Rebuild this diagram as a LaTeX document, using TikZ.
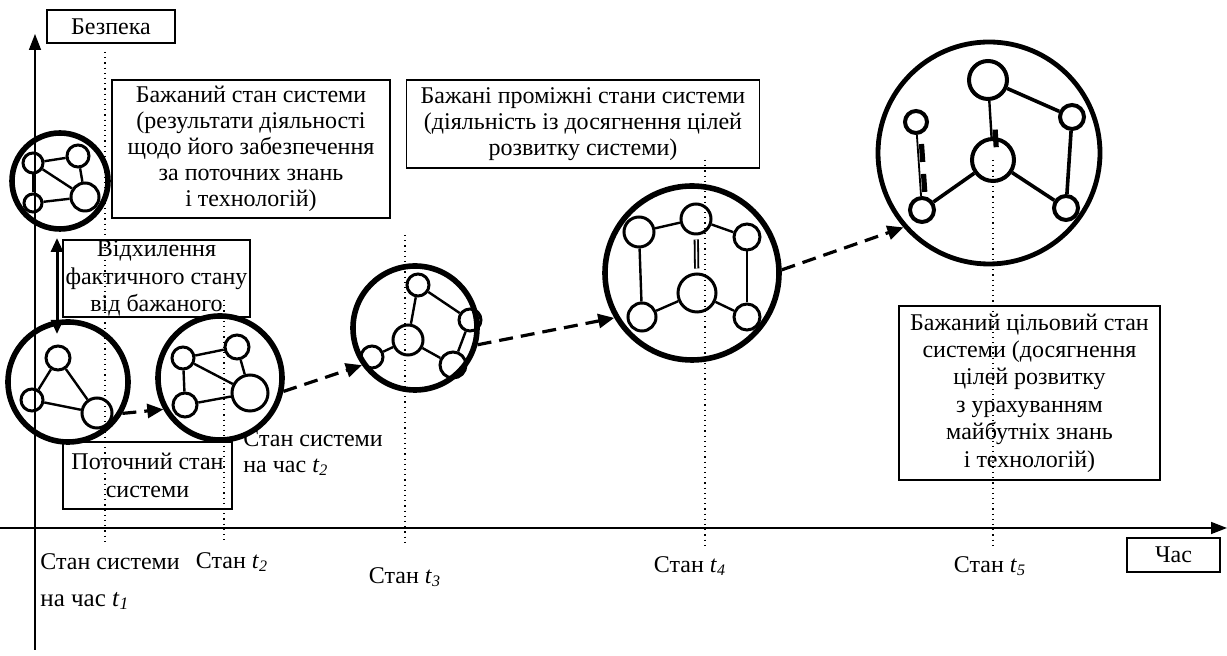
\documentclass[tikz,border=0pt]{standalone}
\usepackage{fontspec}
\setmainfont{Liberation Serif}
\usetikzlibrary{arrows.meta,calc}
\begin{document}
\begin{tikzpicture}[x=0.5pt,y=-0.5pt,
 big/.style={circle,draw,line width=2.8pt,inner sep=0pt},
 sm/.style={circle,draw,line width=1.5pt,inner sep=0pt},
 edge/.style={line width=1.2pt},
 tedge/.style={line width=1.8pt},
 box/.style={draw,line width=0.9pt,align=center,inner sep=0pt,font=\fontsize{12}{13.5}\selectfont},
 lab/.style={inner sep=0pt,font=\fontsize{12}{13.5}\selectfont},
 guide/.style={dotted,line width=0.6pt},
 axis/.style={line width=0.8pt,-{Triangle[length=8pt,width=6pt]}},
 flow/.style={line width=1.6pt,dash pattern=on 7pt off 4pt,-{Triangle[length=8pt,width=7pt]}},
]
\useasboundingbox (0,0) rectangle (1227,656);

% axes
\coordinate (yb) at (35,650); \coordinate (yt) at (35,34);
\coordinate (xl) at (0,528); \coordinate (xr) at (1227,528);
\draw[axis] (yb) -- (yt);
\draw[axis] (xl) -- (xr);

% dotted guides
\coordinate (g1t) at (105,52);  \coordinate (g1b) at (105,542);
\coordinate (g2t) at (224,300); \coordinate (g2b) at (224,542);
\coordinate (g3t) at (405,235); \coordinate (g3b) at (405,545);
\coordinate (g4t) at (705,160); \coordinate (g4b) at (705,545);
\coordinate (g5t) at (993,160); \coordinate (g5b) at (993,545);
\draw[guide] (g1t) -- (g1b);
\draw[guide] (g2t) -- (g2b);
\draw[guide] (g3t) -- (g3b);
\draw[guide] (g4t) -- (g4b);
\draw[guide] (g5t) -- (g5b);

% boxes
\node[box,minimum width=64pt,minimum height=16.5pt] (bez) at (111,26.5) {Безпека};
\node[box,minimum width=46.5pt,minimum height=17pt] (chas) at (1173.5,555) {Час};
\node[box,minimum width=139pt,minimum height=69pt,font=\fontsize{12}{13}\selectfont] (b1) at (251,149)
 {Бажаний стан системи\\(результати діяльності\\щодо його забезпечення\\за поточних знань\\і технологій)};
\node[box,minimum width=93.5pt,minimum height=38.5pt,font=\fontsize{12}{13.6}\selectfont] (b2) at (156.5,278.5)
 {Відхилення\\фактичного стану\\від бажаного};
\node[box,minimum width=84.5pt,minimum height=33.5pt,font=\fontsize{12}{14}\selectfont] (b3) at (147.5,475.5)
 {Поточний стан\\системи};
\node[box,minimum width=176.5pt,minimum height=44pt,font=\fontsize{12}{13}\selectfont] (b4) at (583,124)
 {Бажані проміжні стани системи\\(діяльність із досягнення цілей\\розвитку системи)};
\node[box,minimum width=130.5pt,minimum height=87pt,font=\fontsize{12}{13.7}\selectfont] (b5) at (1029.5,393)
 {Бажаний цільовий стан\\системи (досягнення\\цілей розвитку\\з урахуванням\\майбутніх знань\\і технологій)};

% labels
\node[lab,anchor=west] (l1a) at (40,562) {Стан системи};
\node[lab,anchor=west,font=\fontsize{12.5}{14}\selectfont] (l1b) at (40,601) {на час \textit{t}\textsubscript{\textit{1}}};
\node[lab] (l2) at (232,562) {Стан \textit{t}\textsubscript{\textit{2}}};
\node[lab] (l3) at (405,577) {Стан \textit{t}\textsubscript{\textit{3}}};
\node[lab] (l4) at (690,566) {Стан \textit{t}\textsubscript{\textit{4}}};
\node[lab] (l5) at (990,566) {Стан \textit{t}\textsubscript{\textit{5}}};
\node[lab,anchor=west,align=left,font=\fontsize{12}{13}\selectfont] (s2) at (243,453) {Стан системи\\на час \textit{t}\textsubscript{\textit{2}}};

% C1 desired state
\node[big,minimum size=48pt] (C1) at (60,181) {};
\node[sm,minimum size=10pt] (a1) at (33,163) {};
\node[sm,minimum size=11pt] (a2) at (78,156) {};
\node[sm,minimum size=14pt] (a3) at (85,197) {};
\node[sm,minimum size=9pt] (a4) at (33,203) {};
\draw[edge] (a1) -- (a2); \draw[edge] (a1) -- (a3); \draw[edge] (a1) -- (a4);
\draw[edge] (a4) -- (a3); \draw[edge] (a2) -- (a3);

% C2 current state
\node[big,minimum size=60pt] (C2) at (68,382) {};
\node[sm,minimum size=12pt] (b1n) at (58,358) {};
\node[sm,minimum size=11pt] (b2n) at (32,400) {};
\node[sm,minimum size=15pt] (b3n) at (97,413) {};
\draw[edge] (b1n) -- (b2n); \draw[edge] (b1n) -- (b3n); \draw[edge] (b2n) -- (b3n);

% C3 state t2
\node[big,minimum size=62pt] (C3) at (220,378) {};
\node[sm,minimum size=11pt] (c1) at (183,358) {};
\node[sm,minimum size=12pt] (c2) at (237,347) {};
\node[sm,minimum size=18pt] (c3) at (250,393) {};
\node[sm,minimum size=12pt] (c4) at (185,405) {};
\draw[edge] (c1) -- (c2); \draw[edge] (c1) -- (c3); \draw[edge] (c2) -- (c3);
\draw[edge] (c1) -- (c4); \draw[edge] (c4) -- (c3);

% C4 state t3
\node[big,minimum size=62pt] (C4) at (415,328) {};
\node[sm,minimum size=11pt] (d1) at (418,285) {};
\node[sm,minimum size=15pt] (d2) at (408,340) {};
\node[sm,minimum size=11pt] (d3) at (470,320) {};
\node[sm,minimum size=13pt] (d4) at (453,365) {};
\node[sm,minimum size=11pt] (d5) at (372,357) {};
\draw[edge] (d1) -- (d2); \draw[edge] (d1) -- (d3); \draw[edge] (d3) -- (d4);
\draw[edge] (d2) -- (d4); \draw[edge] (d2) -- (d5);

% C5 state t4
\node[big,minimum size=87pt] (C5) at (692,273) {};
\node[sm,minimum size=15pt] (e1) at (639,232) {};
\node[sm,minimum size=15pt] (e2) at (696,219) {};
\node[sm,minimum size=13pt] (e3) at (747,237) {};
\node[sm,minimum size=19pt] (e4) at (697,293) {};
\node[sm,minimum size=14pt] (e5) at (642,317) {};
\node[sm,minimum size=13pt] (e6) at (747,317) {};
\draw[edge] (e1) -- (e2); \draw[edge] (e2) -- (e3);
\draw[double,double distance=0.8pt,line width=0.9pt,shorten <=2pt,shorten >=2pt] (e2) -- (e4);
\draw[edge] (e1) -- (e5); \draw[edge] (e3) -- (e6);
\draw[edge] (e4) -- (e5); \draw[edge] (e4) -- (e6);

% C6 target state t5
\node[big,line width=2.4pt,minimum size=111pt] (C6) at (989,153) {};
\node[sm,line width=2pt,minimum size=19pt] (f1) at (988,80) {};
\node[sm,line width=2pt,minimum size=21pt] (f2) at (993,160) {};
\node[sm,line width=2pt,minimum size=12pt] (f3) at (1072,117) {};
\node[sm,line width=2pt,minimum size=12pt] (f4) at (1066,208) {};
\node[sm,line width=2pt,minimum size=12pt] (f5) at (922,210) {};
\node[sm,line width=2pt,minimum size=11pt] (f6) at (916,122) {};
\draw[edge] (f1) -- (f2);
\draw[line width=2.6pt] ($(f1)!0.62!(f2)+(4,0)$) -- ($(f1)!0.84!(f2)+(4,0)$);
\draw[tedge] (f1) -- (f3); \draw[tedge] (f3) -- (f4);
\draw[tedge] (f2) -- (f4); \draw[tedge] (f2) -- (f5);
\draw[line width=0.9pt] (f6) -- (f5);
\draw[line width=2.6pt,dash pattern=on 9pt off 6pt] ($(f6)!0.25!(f5)+(4,0)$) -- ($(f6)!0.82!(f5)+(4,0)$);

% double arrow: deviation
\coordinate (dv1) at (57,238); \coordinate (dv2) at (57,334);
\draw[line width=1.5pt,{Triangle[length=7pt,width=6pt]}-{Triangle[length=7pt,width=6pt]}] (dv1) -- (dv2);

% dashed transitions
\draw[flow] (C2.-30) -- (C3.209);
\draw[flow] (C3.-12) -- (C4.215);
\draw[flow] (C4.-15) -- (C5.210);
\draw[flow] (C5.2) -- (C6.221);
\end{tikzpicture}
\end{document}
